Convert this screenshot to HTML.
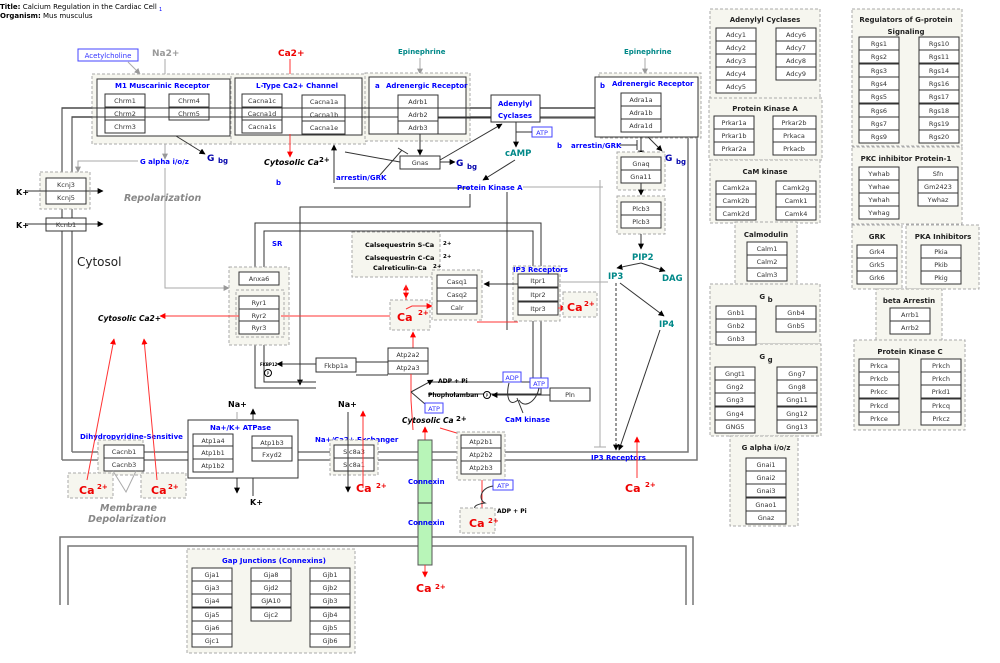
<!DOCTYPE html>
<html><head><meta charset="utf-8"><style>
html,body{margin:0;padding:0;background:#fff}
svg{display:block;font-family:"DejaVu Sans","Liberation Sans",sans-serif}
.g rect{fill:#fff;stroke:#333;stroke-width:1}
.g text{font-size:6.5px;fill:#333;text-anchor:middle}
.grp{fill:#f6f6ef;stroke:#aaa;stroke-width:1;stroke-dasharray:3,2}
.bl{fill:#00f;font-weight:bold;font-size:7px}
.tl{fill:#088;font-weight:bold;font-size:8.5px}
.ttl{font-weight:bold;font-size:7px;fill:#222;text-anchor:middle}
.ln{stroke:#333;fill:none;stroke-width:1}
.mem{stroke:#777;fill:none;stroke-width:1.5}
.red{stroke:#f33;fill:none;stroke-width:1}
.gr{stroke:#aaa;fill:none;stroke-width:1}
.ca{fill:#e00;font-weight:bold;font-size:11px}
.ca2{fill:#e00;font-weight:bold;font-size:7px}
</style></head><body>
<svg width="1000" height="663" viewBox="0 0 1000 663">
<defs>
<marker id="a" viewBox="0 0 10 10" refX="9" refY="5" markerWidth="6" markerHeight="6" orient="auto"><path d="M0,0L10,5L0,10z" fill="#000"/></marker>
<marker id="r" viewBox="0 0 10 10" refX="9" refY="5" markerWidth="6" markerHeight="6" orient="auto"><path d="M0,0L10,5L0,10z" fill="#f00"/></marker>
<marker id="gy" viewBox="0 0 10 10" refX="9" refY="5" markerWidth="6" markerHeight="6" orient="auto"><path d="M0,0L10,5L0,10z" fill="#999"/></marker>
</defs>
<text x="0" y="9" font-size="7"><tspan font-weight="bold">Title:</tspan>  Calcium Regulation in the Cardiac Cell <tspan font-size="5" fill="#00f" dy="2">1</tspan></text>
<text x="0" y="18" font-size="7"><tspan font-weight="bold">Organism:</tspan>  Mus musculus</text>

<path class="mem" d="M62,460V108H700"/>
<path class="mem" d="M72,452V117H688"/>
<path class="mem" d="M62,460H697V118"/>
<path class="mem" d="M72,452H688V130"/>
<path class="mem" d="M60,605V537H693V605"/>
<path class="mem" d="M68,605V546H686V605"/>
<path class="ln" d="M470,194V207H300V385" marker-end="url(#a)"/>
<path class="ln" d="M255,272V223H541V394H428"/>
<path class="ln" d="M264,272V231H533V382H428"/>
<path class="ln" d="M255,334V388H316"/>
<path class="ln" d="M264,334V382H316"/>
<path class="ln" d="M356,362H388M356,375H388"/>

<rect x="78" y="49" width="60" height="12" fill="#fff" stroke="#44f"/><text x="108" y="58" font-size="7" fill="#33f" text-anchor="middle">Acetylcholine</text>
<path class="gr" d="M128,62L140,74" marker-end="url(#gy)"/>
<text x="152" y="56" font-size="9" fill="#999" font-weight="bold">Na2+</text>
<path class="gr" d="M165,59V155"/>
<text x="278" y="56" font-size="9" fill="#e00" font-weight="bold">Ca2+</text>
<path class="red" d="M290,59V78"/>
<text x="398" y="54" font-size="7" fill="#088" font-weight="bold">Epinephrine</text>
<path class="gr" d="M420,58V74" marker-end="url(#gy)"/>
<text x="624" y="54" font-size="7" fill="#088" font-weight="bold">Epinephrine</text>
<path class="gr" d="M645,58V74" marker-end="url(#gy)"/>

<rect class="grp" x="92" y="74" width="140" height="70"/>
<rect x="97" y="79" width="133" height="57" fill="#fff" stroke="#333"/>
<text x="115" y="88" class="bl">M1 Muscarinic Receptor</text>
<g class="g"><rect x="105" y="94" width="40" height="13"/><text x="125" y="103">Chrm1</text><rect x="105" y="107" width="40" height="13"/><text x="125" y="116">Chrm2</text><rect x="105" y="120" width="40" height="13"/><text x="125" y="129">Chrm3</text><rect x="169" y="94" width="40" height="13"/><text x="189" y="103">Chrm4</text><rect x="169" y="107" width="40" height="13"/><text x="189" y="116">Chrm5</text></g>
<rect class="grp" x="231" y="74" width="135" height="70"/>
<rect x="235" y="78" width="127" height="57" fill="#fff" stroke="#333"/>
<text x="256" y="88" class="bl">L-Type Ca2+ Channel</text>
<g class="g"><rect x="242" y="94" width="40" height="13"/><text x="262" y="103">Cacna1c</text><rect x="242" y="107" width="40" height="13"/><text x="262" y="116">Cacna1d</text><rect x="242" y="120" width="40" height="13"/><text x="262" y="129">Cacna1s</text><rect x="302" y="95" width="43" height="13"/><text x="324" y="104">Cacna1a</text><rect x="302" y="108" width="43" height="13"/><text x="324" y="117">Cacna1b</text><rect x="302" y="121" width="43" height="13"/><text x="324" y="130">Cacna1e</text></g>
<rect class="grp" x="365" y="73" width="105" height="68"/>
<rect x="369" y="77" width="97" height="57" fill="#fff" stroke="#333"/>
<text x="375" y="88" class="bl">a</text><text x="386" y="88" class="bl">Adrenergic Receptor</text>
<g class="g"><rect x="398" y="95" width="40" height="13"/><text x="418" y="104">Adrb1</text><rect x="398" y="108" width="40" height="13"/><text x="418" y="117">Adrb2</text><rect x="398" y="121" width="40" height="13"/><text x="418" y="130">Adrb3</text></g>
<path class="ln" d="M72,117H398M438,117H491M540,108H595M62,108H491"/>
<path class="ln" d="M438,118H595"/>
<rect x="491" y="95" width="49" height="27" fill="#fff" stroke="#333"/>
<text x="515" y="106" class="bl" text-anchor="middle">Adenylyl</text><text x="515" y="118" class="bl" text-anchor="middle">Cyclases</text>
<rect x="532" y="127" width="20" height="10" fill="#fff" stroke="#44f"/><text x="542" y="135" font-size="6.5" fill="#33f" text-anchor="middle">ATP</text>
<path class="ln" d="M516,122V146M516,132H532" /><path class="ln" d="M516,140V147" marker-end="url(#a)"/>
<text x="505" y="156" class="tl">cAMP</text>
<path class="ln" d="M515,160L483,180" marker-end="url(#a)"/>
<rect class="grp" x="599" y="73" width="102" height="65"/>
<rect x="595" y="77" width="103" height="60" fill="#fff" stroke="#333"/>
<text x="600" y="88" class="bl">b</text><text x="612" y="86" class="bl">Adrenergic Receptor</text>
<g class="g"><rect x="621" y="93" width="40" height="13"/><text x="641" y="102">Adra1a</text><rect x="621" y="106" width="40" height="13"/><text x="641" y="115">Adra1b</text><rect x="621" y="119" width="40" height="13"/><text x="641" y="128">Adra1d</text></g>
<text x="557" y="148" class="bl">b</text><text x="571" y="148" class="bl">arrestin/GRK</text>
<path class="ln" d="M620,145H637M637,140V150"/>
<path class="ln" d="M641,137V156" marker-end="url(#a)"/>
<path class="ln" d="M648,137L662,151" marker-end="url(#a)"/>
<text x="665" y="161" font-size="9" font-weight="bold" fill="#00a">G</text><text x="676" y="164" font-size="7" font-weight="bold" fill="#00a">bg</text>
<rect class="grp" x="617" y="152" width="48" height="38"/>
<g class="g"><rect x="621" y="157" width="40" height="13"/><text x="641" y="166">Gnaq</text><rect x="621" y="170" width="40" height="13"/><text x="641" y="179">Gna11</text></g>
<path class="ln" d="M641,183V195" marker-end="url(#a)"/>
<rect class="grp" x="617" y="196" width="48" height="38"/>
<g class="g"><rect x="621" y="202" width="40" height="13"/><text x="641" y="211">Plcb3</text><rect x="621" y="215" width="40" height="13"/><text x="641" y="224">Plcb3</text></g>
<path class="ln" d="M641,234V249" marker-end="url(#a)"/>
<text x="632" y="260" class="tl">PIP2</text>
<path class="ln" d="M641,263L617,268" marker-end="url(#a)"/><path class="ln" d="M641,263L665,271" marker-end="url(#a)"/>
<text x="608" y="279" class="tl">IP3</text><text x="662" y="281" class="tl">DAG</text>
<text x="659" y="327" class="tl">IP4</text>
<path class="ln" d="M620,283L664,316" marker-end="url(#a)"/>
<path class="ln" d="M660,330L619,450" marker-end="url(#a)"/>
<path class="ln" d="M616,283V450" stroke-dasharray="3,2" marker-end="url(#a)"/>
<path class="gr" d="M600,180V447M594,447H606" stroke-width="1.5"/>
<text x="591" y="460" class="bl">IP3 Receptors</text>
<path class="red" d="M637,478V437" marker-end="url(#r)"/>
<text x="625" y="492" class="ca">Ca</text><text x="645" y="487" class="ca2">2+</text>

<path class="ln" d="M420,134V155" marker-end="url(#a)"/>
<g class="g"><rect x="400" y="156" width="40" height="13"/><text x="420" y="165">Gnas</text></g>
<path class="ln" d="M440,162H455" marker-end="url(#a)"/>
<text x="456" y="166" font-size="9" font-weight="bold" fill="#00a">G</text><text x="467" y="169" font-size="7" font-weight="bold" fill="#00a">bg</text>
<path class="ln" d="M440,160L502,124" marker-end="url(#a)"/>
<path class="ln" d="M400,162L345,152" />
<path class="ln" d="M380,175L402,150M398,148L408,154"/>
<text x="336" y="180" class="bl">arrestin/GRK</text>
<path class="ln" d="M334,183V145" marker-end="url(#a)"/><path class="ln" d="M334,188H470"/>
<text x="457" y="190" class="bl">Protein Kinase A</text>
<path class="gr" d="M523,187H603"/>
<path class="ln" d="M507,192V330"/>
<path class="ln" d="M176,136L205,154" marker-end="url(#a)"/>
<text x="207" y="161" font-size="9" font-weight="bold" fill="#00a">G</text><text x="218" y="163" font-size="7" font-weight="bold" fill="#00a">bg</text>
<path class="gr" d="M165,144V159" marker-end="url(#gy)"/>
<text x="140" y="164" class="bl">G alpha i/o/z</text>
<path class="gr" d="M138,161H78V172" marker-end="url(#gy)"/>
<path class="red" d="M290,134V157" marker-end="url(#r)"/>
<text x="264" y="165" font-size="8" font-weight="bold" font-style="italic">Cytosolic Ca</text><text x="319" y="162" font-size="7" font-weight="bold">2+</text>
<text x="276" y="185" class="bl">b</text>
<path class="gr" d="M165,168V288H229" marker-end="url(#gy)"/>

<path class="ln" d="M62,178V172M72,178V172"/>
<rect class="grp" x="40" y="172" width="50" height="37"/>
<g class="g"><rect x="46" y="178" width="40" height="13"/><text x="66" y="187">Kcnj3</text><rect x="46" y="191" width="40" height="13"/><text x="66" y="200">Kcnj5</text><rect x="46" y="218" width="40" height="13"/><text x="66" y="227">Kcnb1</text></g>
<text x="16" y="195" font-size="8" font-weight="bold">K+</text><text x="16" y="228" font-size="8" font-weight="bold">K+</text>
<path class="ln" d="M26,191H103" marker-end="url(#a)"/><path class="ln" d="M26,224H103" marker-end="url(#a)"/>
<text x="124" y="201" font-size="9.5" font-weight="bold" font-style="italic" fill="#888">Repolarization</text>
<text x="77" y="266" font-size="12" fill="#222">Cytosol</text>
<text x="272" y="246" class="bl" font-size="8">SR</text>

<rect class="grp" x="352" y="232" width="88" height="45"/>
<g font-size="6.5" font-weight="bold"><text x="365" y="247">Calsequestrin S-Ca</text><text x="443" y="245" font-size="5.5">2+</text><text x="365" y="260">Calsequestrin C-Ca</text><text x="443" y="258" font-size="5.5">2+</text><text x="373" y="270">Calreticulin-Ca</text><text x="433" y="268" font-size="5.5">2+</text></g>
<rect class="grp" x="229" y="267" width="60" height="78"/>
<g class="g"><rect x="239" y="272" width="40" height="13"/><text x="259" y="281">Anxa6</text></g>
<rect class="grp" x="236" y="290" width="48" height="47"/>
<g class="g"><rect x="239" y="296" width="40" height="13"/><text x="259" y="305">Ryr1</text><rect x="239" y="309" width="40" height="13"/><text x="259" y="318">Ryr2</text><rect x="239" y="321" width="40" height="13"/><text x="259" y="330">Ryr3</text></g>
<rect class="grp" x="432" y="270" width="50" height="50"/>
<g class="g"><rect x="437" y="275" width="40" height="13"/><text x="457" y="284">Casq1</text><rect x="437" y="288" width="40" height="13"/><text x="457" y="297">Casq2</text><rect x="437" y="301" width="40" height="13"/><text x="457" y="310">Calr</text></g>
<rect class="grp" x="390" y="300" width="40" height="30"/>
<text x="397" y="321" class="ca" font-size="12">Ca</text><text x="418" y="315" class="ca2">2+</text>
<path class="red" d="M406,300V285" marker-end="url(#r)"/><path class="red" d="M406,285V298" marker-end="url(#r)"/>
<path class="red" d="M406,309L412,306H432" marker-end="url(#r)"/>
<path class="red" d="M413,348V332" marker-end="url(#r)"/>
<path class="red" d="M390,316H281"/>
<path class="red" d="M239,316H160" marker-end="url(#r)"/>
<text x="98" y="321" font-size="7.5" font-weight="bold" font-style="italic">Cytosolic Ca2+</text>
<rect class="grp" x="513" y="266" width="47" height="55"/>
<text x="513" y="272" class="bl">IP3 Receptors</text>
<g class="g"><rect x="518" y="274" width="40" height="13"/><text x="538" y="283">Itpr1</text><rect x="518" y="288" width="40" height="13"/><text x="538" y="297">Itpr2</text><rect x="518" y="302" width="40" height="13"/><text x="538" y="311">Itpr3</text></g>
<path class="ln" d="M518,284H484" marker-end="url(#a)"/>
<path class="gr" d="M558,282H608" stroke-width="1.5"/>
<path class="red" d="M477,322H518"/>
<path class="red" d="M558,308H566" marker-end="url(#r)"/>
<rect class="grp" x="563" y="292" width="34" height="25"/>
<text x="567" y="311" class="ca" font-size="9">Ca</text><text x="584" y="306" class="ca2" font-size="6">2+</text>

<g class="g"><rect x="316" y="358" width="40" height="14"/><text x="336" y="368">Fkbp1a</text><rect x="388" y="348" width="40" height="13"/><text x="408" y="357">Atp2a2</text><rect x="388" y="361" width="40" height="13"/><text x="408" y="370">Atp2a3</text></g>
<path class="ln" d="M316,364H277" marker-end="url(#a)"/>
<text x="260" y="366" font-size="4" font-weight="bold">FKBP12</text>
<circle cx="268" cy="373" r="3.5" fill="#fff" stroke="#000"/><text x="268" y="375" font-size="4" text-anchor="middle">P</text>
<path class="red" d="M411,374V400L413,430"/>
<path class="ln" d="M411,392L433,380" marker-end="url(#a)"/><path class="ln" d="M411,392L425,404"/>
<text x="438" y="383" font-size="6" font-weight="bold">ADP + Pi</text>
<text x="428" y="397" font-size="6" font-weight="bold">Phopholamban</text>
<circle cx="487" cy="395" r="3.5" fill="#fff" stroke="#000"/><text x="487" y="397" font-size="4" text-anchor="middle">P</text>
<path class="ln" d="M550,395H492" marker-end="url(#a)"/>
<g class="g"><rect x="550" y="388" width="40" height="13"/><text x="570" y="397">Pln</text></g>
<rect x="503" y="372" width="18" height="10" fill="#fff" stroke="#44f"/><text x="512" y="380" font-size="6.5" fill="#33f" text-anchor="middle">ADP</text>
<rect x="530" y="378" width="18" height="10" fill="#fff" stroke="#44f"/><text x="539" y="386" font-size="6.5" fill="#33f" text-anchor="middle">ATP</text>
<path class="ln" d="M518,400C508,408 506,395 509,383M519,400C525,410 537,400 539,388M523,413L517,398"/>
<text x="505" y="422" class="bl">CaM kinase</text>
<rect x="425" y="403" width="18" height="10" fill="#fff" stroke="#44f"/><text x="434" y="411" font-size="6.5" fill="#33f" text-anchor="middle">ATP</text>
<text x="402" y="423" font-size="7.5" font-weight="bold" font-style="italic">Cytosolic Ca</text><text x="456" y="421" font-size="7" font-weight="bold">2+</text>
<path class="red" d="M425,440V427" marker-end="url(#r)"/>
<path class="red" d="M440,428L470,437" marker-end="url(#r)"/>

<rect x="188" y="420" width="110" height="58" fill="#fff" stroke="#333"/>
<text x="210" y="430" class="bl">Na+/K+ ATPase</text>
<g class="g"><rect x="193" y="434" width="40" height="12"/><text x="213" y="443">Atp1a4</text><rect x="193" y="446" width="40" height="13"/><text x="213" y="455">Atp1b1</text><rect x="193" y="459" width="40" height="13"/><text x="213" y="468">Atp1b2</text><rect x="252" y="436" width="40" height="12"/><text x="272" y="445">Atp1b3</text><rect x="252" y="448" width="40" height="13"/><text x="272" y="457">Fxyd2</text></g>
<text x="228" y="407" font-size="8" font-weight="bold">Na+</text><path class="ln" d="M253,420V409" marker-end="url(#a)"/><path class="gr" d="M237,420V412"/>
<text x="250" y="505" font-size="8" font-weight="bold">K+</text><path class="ln" d="M237,478V493" marker-end="url(#a)"/><path class="ln" d="M253,478V496"/>
<text x="80" y="439" class="bl">Dihydropyridine-Sensitive</text>
<rect class="grp" x="98" y="440" width="45" height="35"/>
<g class="g"><rect x="104" y="445" width="40" height="13"/><text x="124" y="454">Cacnb1</text><rect x="104" y="458" width="40" height="13"/><text x="124" y="467">Cacnb3</text></g>
<rect class="grp" x="68" y="473" width="45" height="25"/><rect class="grp" x="141" y="473" width="45" height="25"/>
<text x="79" y="494" class="ca">Ca</text><text x="97" y="489" class="ca2">2+</text>
<text x="151" y="494" class="ca">Ca</text><text x="168" y="489" class="ca2">2+</text>
<path class="red" d="M87,480L114,339" marker-end="url(#r)"/><path class="red" d="M157,480L144,339" marker-end="url(#r)"/>
<path class="gr" d="M113,471L126,492L136,471"/>
<text x="100" y="511" font-size="9.5" font-weight="bold" font-style="italic" fill="#888">Membrane</text>
<text x="88" y="522" font-size="9.5" font-weight="bold" font-style="italic" fill="#888">Depolarization</text>
<text x="315" y="442" class="bl">Na+/Ca2+ Exchanger</text>
<rect class="grp" x="330" y="440" width="48" height="35"/>
<g class="g"><rect x="334" y="445" width="40" height="13"/><text x="354" y="454">Slc8a3</text><rect x="334" y="458" width="40" height="13"/><text x="354" y="467">Slc8a1</text></g>
<text x="338" y="407" font-size="8" font-weight="bold">Na+</text>
<path class="ln" d="M348,412V492" marker-end="url(#a)"/>
<path class="red" d="M363,488V411" marker-end="url(#r)"/>
<text x="356" y="492" class="ca">Ca</text><text x="376" y="488" class="ca2">2+</text>
<rect x="418" y="440" width="14" height="125" fill="#b8f5b8" stroke="#555"/><path class="ln" d="M418,503H432"/>
<text x="408" y="484" class="bl" font-size="6.5">Connexin</text><text x="408" y="525" class="bl" font-size="6.5">Connexin</text>
<path class="red" d="M425,565V577" marker-end="url(#r)"/>
<text x="416" y="592" class="ca">Ca</text><text x="435" y="589" class="ca2">2+</text>
<rect class="grp" x="457" y="432" width="48" height="48"/>
<g class="g"><rect x="461" y="435" width="40" height="13"/><text x="481" y="444">Atp2b1</text><rect x="461" y="448" width="40" height="13"/><text x="481" y="457">Atp2b2</text><rect x="461" y="461" width="40" height="13"/><text x="481" y="470">Atp2b3</text></g>
<rect x="493" y="480" width="20" height="10" fill="#fff" stroke="#44f"/><text x="503" y="488" font-size="6.5" fill="#33f" text-anchor="middle">ATP</text>
<path class="red" d="M482,480V517" marker-end="url(#r)"/>
<path class="ln" d="M493,486C480,488 478,500 485,503C470,505 470,512 494,511"/>
<text x="497" y="513" font-size="6" font-weight="bold">ADP + Pi</text>
<rect class="grp" x="460" y="508" width="35" height="25"/>
<text x="469" y="527" class="ca">Ca</text><text x="488" y="523" class="ca2">2+</text>

<rect class="grp" x="187" y="549" width="168" height="104"/>
<text x="222" y="563" class="bl">Gap Junctions (Connexins)</text>
<g class="g">
<rect x="192" y="568" width="40" height="13"/><text x="212" y="577">Gja1</text><rect x="192" y="581" width="40" height="13"/><text x="212" y="590">Gja3</text><rect x="192" y="594" width="40" height="13"/><text x="212" y="603">Gja4</text><rect x="192" y="608" width="40" height="13"/><text x="212" y="617">Gja5</text><rect x="192" y="621" width="40" height="13"/><text x="212" y="630">Gja6</text><rect x="192" y="634" width="40" height="13"/><text x="212" y="643">Gjc1</text>
<rect x="251" y="568" width="40" height="13"/><text x="271" y="577">Gja8</text><rect x="251" y="581" width="40" height="13"/><text x="271" y="590">Gjd2</text><rect x="251" y="594" width="40" height="13"/><text x="271" y="603">GJA10</text><rect x="251" y="608" width="40" height="13"/><text x="271" y="617">Gjc2</text>
<rect x="310" y="568" width="40" height="13"/><text x="330" y="577">Gjb1</text><rect x="310" y="581" width="40" height="13"/><text x="330" y="590">Gjb2</text><rect x="310" y="594" width="40" height="13"/><text x="330" y="603">Gjb3</text><rect x="310" y="608" width="40" height="13"/><text x="330" y="617">Gjb4</text><rect x="310" y="621" width="40" height="13"/><text x="330" y="630">Gjb5</text><rect x="310" y="634" width="40" height="13"/><text x="330" y="643">Gjb6</text>
</g>

<rect class="grp" x="710" y="9" width="110" height="90"/><text x="765" y="22" class="ttl">Adenylyl Cyclases</text>
<rect class="grp" x="709" y="98" width="113" height="62"/><text x="765" y="111" class="ttl">Protein Kinase A</text>
<rect class="grp" x="710" y="160" width="110" height="63"/><text x="765" y="174" class="ttl">CaM kinase</text>
<rect class="grp" x="735" y="222" width="62" height="66"/><text x="766" y="237" class="ttl">Calmodulin</text>
<rect class="grp" x="710" y="284" width="110" height="60"/><text x="766" y="299" class="ttl" font-size="9">G <tspan font-size="7" dy="3">b</tspan></text>
<rect class="grp" x="710" y="344" width="111" height="92"/><text x="766" y="359" class="ttl" font-size="9">G <tspan font-size="7" dy="3">g</tspan></text>
<rect class="grp" x="730" y="436" width="68" height="90"/><text x="766" y="450" class="ttl">G alpha i/o/z</text>
<rect class="grp" x="852" y="9" width="110" height="137"/><text x="906" y="22" class="ttl">Regulators of G-protein</text><text x="906" y="34" class="ttl">Signaling</text>
<rect class="grp" x="852" y="147" width="110" height="77"/><text x="906" y="161" class="ttl">PKC inhibitor Protein-1</text>
<rect class="grp" x="852" y="225" width="50" height="64"/><text x="877" y="239" class="ttl">GRK</text>
<rect class="grp" x="906" y="225" width="73" height="64"/><text x="943" y="239" class="ttl">PKA Inhibitors</text>
<rect class="grp" x="876" y="289" width="66" height="52"/><text x="909" y="303" class="ttl">beta Arrestin</text>
<rect class="grp" x="854" y="340" width="111" height="90"/><text x="910" y="354" class="ttl">Protein Kinase C</text>
<g class="g">
<rect x="716" y="28" width="40" height="13"/><text x="736" y="37">Adcy1</text><rect x="716" y="41" width="40" height="13"/><text x="736" y="50">Adcy2</text><rect x="716" y="54" width="40" height="13"/><text x="736" y="63">Adcy3</text><rect x="716" y="67" width="40" height="13"/><text x="736" y="76">Adcy4</text><rect x="716" y="80" width="40" height="13"/><text x="736" y="89">Adcy5</text>
<rect x="776" y="28" width="40" height="13"/><text x="796" y="37">Adcy6</text><rect x="776" y="41" width="40" height="13"/><text x="796" y="50">Adcy7</text><rect x="776" y="54" width="40" height="13"/><text x="796" y="63">Adcy8</text><rect x="776" y="67" width="40" height="13"/><text x="796" y="76">Adcy9</text>
<rect x="714" y="116" width="40" height="13"/><text x="734" y="125">Prkar1a</text><rect x="714" y="129" width="40" height="13"/><text x="734" y="138">Prkar1b</text><rect x="714" y="142" width="40" height="13"/><text x="734" y="151">Prkar2a</text>
<rect x="773" y="116" width="43" height="13"/><text x="794" y="125">Prkar2b</text><rect x="773" y="129" width="43" height="13"/><text x="794" y="138">Prkaca</text><rect x="773" y="142" width="43" height="13"/><text x="794" y="151">Prkacb</text>
<rect x="716" y="181" width="40" height="13"/><text x="736" y="190">Camk2a</text><rect x="716" y="194" width="40" height="13"/><text x="736" y="203">Camk2b</text><rect x="716" y="207" width="40" height="13"/><text x="736" y="216">Camk2d</text>
<rect x="776" y="181" width="40" height="13"/><text x="796" y="190">Camk2g</text><rect x="776" y="194" width="40" height="13"/><text x="796" y="203">Camk1</text><rect x="776" y="207" width="40" height="13"/><text x="796" y="216">Camk4</text>
<rect x="747" y="242" width="40" height="13"/><text x="767" y="251">Calm1</text><rect x="747" y="255" width="40" height="13"/><text x="767" y="264">Calm2</text><rect x="747" y="268" width="40" height="13"/><text x="767" y="277">Calm3</text>
<rect x="716" y="306" width="40" height="13"/><text x="736" y="315">Gnb1</text><rect x="716" y="319" width="40" height="13"/><text x="736" y="328">Gnb2</text><rect x="716" y="332" width="40" height="13"/><text x="736" y="341">Gnb3</text>
<rect x="776" y="306" width="40" height="13"/><text x="796" y="315">Gnb4</text><rect x="776" y="319" width="40" height="13"/><text x="796" y="328">Gnb5</text>
<rect x="715" y="367" width="40" height="13"/><text x="735" y="376">Gngt1</text><rect x="715" y="380" width="40" height="13"/><text x="735" y="389">Gng2</text><rect x="715" y="393" width="40" height="13"/><text x="735" y="402">Gng3</text><rect x="715" y="407" width="40" height="13"/><text x="735" y="416">Gng4</text><rect x="715" y="420" width="40" height="13"/><text x="735" y="429">GNG5</text>
<rect x="777" y="367" width="40" height="13"/><text x="797" y="376">Gng7</text><rect x="777" y="380" width="40" height="13"/><text x="797" y="389">Gng8</text><rect x="777" y="393" width="40" height="13"/><text x="797" y="402">Gng11</text><rect x="777" y="407" width="40" height="13"/><text x="797" y="416">Gng12</text><rect x="777" y="420" width="40" height="13"/><text x="797" y="429">Gng13</text>
<rect x="746" y="458" width="40" height="13"/><text x="766" y="467">Gnai1</text><rect x="746" y="471" width="40" height="13"/><text x="766" y="480">Gnai2</text><rect x="746" y="484" width="40" height="13"/><text x="766" y="493">Gnai3</text><rect x="746" y="498" width="40" height="13"/><text x="766" y="507">Gnao1</text><rect x="746" y="511" width="40" height="13"/><text x="766" y="520">Gnaz</text>
<rect x="859" y="37" width="40" height="13"/><text x="879" y="46">Rgs1</text><rect x="859" y="50" width="40" height="13"/><text x="879" y="59">Rgs2</text><rect x="859" y="64" width="40" height="13"/><text x="879" y="73">Rgs3</text><rect x="859" y="77" width="40" height="13"/><text x="879" y="86">Rgs4</text><rect x="859" y="90" width="40" height="13"/><text x="879" y="99">Rgs5</text><rect x="859" y="104" width="40" height="13"/><text x="879" y="113">Rgs6</text><rect x="859" y="117" width="40" height="13"/><text x="879" y="126">Rgs7</text><rect x="859" y="130" width="40" height="13"/><text x="879" y="139">Rgs9</text>
<rect x="919" y="37" width="40" height="13"/><text x="939" y="46">Rgs10</text><rect x="919" y="50" width="40" height="13"/><text x="939" y="59">Rgs11</text><rect x="919" y="64" width="40" height="13"/><text x="939" y="73">Rgs14</text><rect x="919" y="77" width="40" height="13"/><text x="939" y="86">Rgs16</text><rect x="919" y="90" width="40" height="13"/><text x="939" y="99">Rgs17</text><rect x="919" y="104" width="40" height="13"/><text x="939" y="113">Rgs18</text><rect x="919" y="117" width="40" height="13"/><text x="939" y="126">Rgs19</text><rect x="919" y="130" width="40" height="13"/><text x="939" y="139">Rgs20</text>
<rect x="859" y="167" width="40" height="13"/><text x="879" y="176">Ywhab</text><rect x="859" y="180" width="40" height="13"/><text x="879" y="189">Ywhae</text><rect x="859" y="193" width="40" height="13"/><text x="879" y="202">Ywhah</text><rect x="859" y="206" width="40" height="13"/><text x="879" y="215">Ywhag</text>
<rect x="918" y="167" width="40" height="13"/><text x="938" y="176">Sfn</text><rect x="918" y="180" width="40" height="13"/><text x="938" y="189">Gm2423</text><rect x="918" y="193" width="40" height="13"/><text x="938" y="202">Ywhaz</text>
<rect x="857" y="245" width="40" height="13"/><text x="877" y="254">Grk4</text><rect x="857" y="258" width="40" height="13"/><text x="877" y="267">Grk5</text><rect x="857" y="271" width="40" height="13"/><text x="877" y="280">Grk6</text>
<rect x="921" y="245" width="40" height="13"/><text x="941" y="254">Pkia</text><rect x="921" y="258" width="40" height="13"/><text x="941" y="267">Pkib</text><rect x="921" y="271" width="40" height="13"/><text x="941" y="280">Pkig</text>
<rect x="890" y="308" width="40" height="13"/><text x="910" y="317">Arrb1</text><rect x="890" y="321" width="40" height="13"/><text x="910" y="330">Arrb2</text>
<rect x="859" y="359" width="40" height="13"/><text x="879" y="368">Prkca</text><rect x="859" y="372" width="40" height="13"/><text x="879" y="381">Prkcb</text><rect x="859" y="385" width="40" height="13"/><text x="879" y="394">Prkcc</text><rect x="859" y="399" width="40" height="13"/><text x="879" y="408">Prkcd</text><rect x="859" y="412" width="40" height="13"/><text x="879" y="421">Prkce</text>
<rect x="921" y="359" width="40" height="13"/><text x="941" y="368">Prkch</text><rect x="921" y="372" width="40" height="13"/><text x="941" y="381">Prkch</text><rect x="921" y="385" width="40" height="13"/><text x="941" y="394">Prkd1</text><rect x="921" y="399" width="40" height="13"/><text x="941" y="408">Prkcq</text><rect x="921" y="412" width="40" height="13"/><text x="941" y="421">Prkcz</text>
</g>
</svg>
</body></html>
